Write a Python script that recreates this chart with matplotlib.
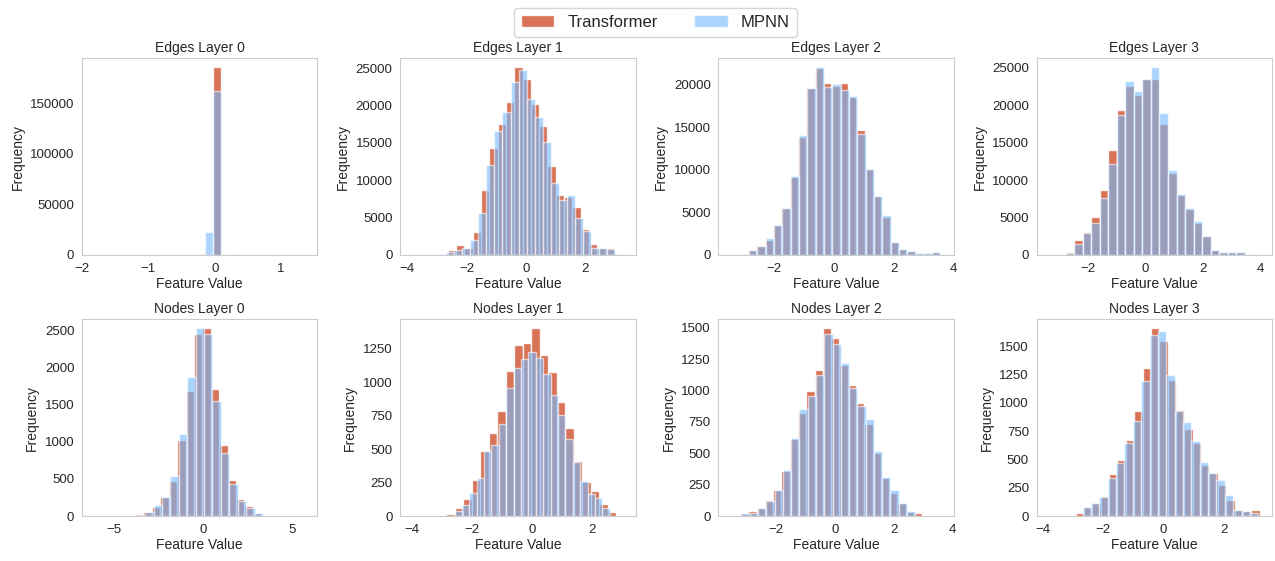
import numpy as np
import matplotlib
matplotlib.use('Agg')
import matplotlib.pyplot as plt
import seaborn as sns

sns.set_style('whitegrid')
plt.rcParams['font.family'] = ['Liberation Sans', 'DejaVu Sans']

# each series: first bin edge, bin width, counts per bin
# Edges Layer 0
e0_tf_start, e0_tf_width = -0.27, 0.12
e0_tf = [600, 100, 185300, 100, 300]
e0_mp_start, e0_mp_width = -0.27, 0.12
e0_mp = [400, 23000, 162300, 100, 900]

# Edges Layer 1
e1_tf_start, e1_tf_width = -2.629, 0.2796
e1_tf = [630, 1350, 1000, 3020, 8740, 14370, 17570, 20500, 25090, 23520, 20140,
         17300, 11890, 7970, 7700, 6400, 3470, 1530, 900, 990, 100]
e1_mp_start, e1_mp_width = -2.953, 0.2707
e1_mp = [100, 450, 630, 990, 2070, 5630, 12070, 16530, 19100, 23070, 24780,
         20900, 18420, 15050, 9640, 7300, 7970, 4900, 3150, 990, 900, 765]

# Edges Layer 2
e2_tf_start, e2_tf_width = -3.162, 0.2793
e2_tf = [150, 554, 1000, 1800, 3560, 5540, 9200, 13800, 19560, 21900, 20200, 19800,
         20200, 18500, 14650, 10100, 6930, 4500, 1470, 670, 475, 200, 240, 320]
e2_mp_start, e2_mp_width = -3.128, 0.2793
e2_mp = [60, 554, 1110, 1940, 3560, 5540, 9300, 14060, 19560, 22020, 19680, 20080,
         19400, 18690, 14260, 10100, 6930, 4750, 1470, 670, 475, 200, 240, 320]

# Edges Layer 3
e3_tf_start, e3_tf_width = -2.773, 0.2965
e3_tf = [450, 2030, 3110, 5045, 8740, 14050, 19370, 22610, 21400, 23520, 23520,
         17430, 10900, 8060, 6170, 4280, 2500, 650, 400, 400, 350, 80]
e3_mp_start, e3_mp_width = -2.773, 0.2965
e3_mp = [225, 1530, 2880, 4230, 7660, 12120, 18650, 23290, 21940, 23520, 25050,
         18920, 11350, 8200, 6260, 4500, 2570, 675, 405, 405, 360, 90]

# Nodes Layer 0
n0_tf_start, n0_tf_width = -3.796, 0.4704
n0_tf = [25, 50, 127, 263, 476, 1025, 1692, 2450, 2532, 1715, 953, 485, 236, 136, 40]
n0_mp_start, n0_mp_width = -3.704, 0.4704
n0_mp = [18, 54, 154, 263, 535, 1102, 1878, 2532, 2450, 1547, 844, 436, 209, 104, 45]

# Nodes Layer 1
n1_tf_start, n1_tf_width = -2.867, 0.2833
n1_tf = [13, 63, 126, 270, 489, 620, 786, 1086, 1278, 1298, 1404, 1207, 1081, 854,
         660, 408, 257, 186, 93, 30]
n1_mp_start, n1_mp_width = -2.59, 0.2461
n1_mp = [35, 81, 169, 287, 489, 529, 686, 955, 1107, 1177, 1228, 1182, 1059, 905,
         756, 577, 403, 260, 164, 136, 60]

# Nodes Layer 2
n2_tf_start, n2_tf_width = -3.232, 0.2814
n2_tf = [15, 43, 62, 129, 209, 356, 611, 820, 1000, 1160, 1495, 1420, 1200, 1040,
         900, 731, 504, 303, 182, 107, 32, 21]
n2_mp_start, n2_mp_width = -3.186, 0.2814
n2_mp = [21, 21, 62, 123, 209, 370, 619, 852, 959, 1125, 1447, 1369, 1222, 1021,
         879, 777, 522, 311, 209, 107, 43]

# Nodes Layer 3
n3_tf_start, n3_tf_width = -2.922, 0.2778
n3_tf = [24, 77, 113, 178, 374, 499, 668, 930, 1310, 1657, 1547, 1197, 935, 766,
         641, 448, 380, 276, 143, 53, 48, 53]
n3_mp_start, n3_mp_width = -2.689, 0.2778
n3_mp = [77, 113, 166, 336, 469, 647, 840, 1188, 1598, 1636, 1247, 930, 832, 662,
         478, 380, 321, 187, 53, 48, 30]

titles = ['Edges Layer 0', 'Edges Layer 1', 'Edges Layer 2', 'Edges Layer 3',
          'Nodes Layer 0', 'Nodes Layer 1', 'Nodes Layer 2', 'Nodes Layer 3']

panels = [
    ((e0_tf_start, e0_tf_width, e0_tf), (e0_mp_start, e0_mp_width, e0_mp)),
    ((e1_tf_start, e1_tf_width, e1_tf), (e1_mp_start, e1_mp_width, e1_mp)),
    ((e2_tf_start, e2_tf_width, e2_tf), (e2_mp_start, e2_mp_width, e2_mp)),
    ((e3_tf_start, e3_tf_width, e3_tf), (e3_mp_start, e3_mp_width, e3_mp)),
    ((n0_tf_start, n0_tf_width, n0_tf), (n0_mp_start, n0_mp_width, n0_mp)),
    ((n1_tf_start, n1_tf_width, n1_tf), (n1_mp_start, n1_mp_width, n1_mp)),
    ((n2_tf_start, n2_tf_width, n2_tf), (n2_mp_start, n2_mp_width, n2_mp)),
    ((n3_tf_start, n3_tf_width, n3_tf), (n3_mp_start, n3_mp_width, n3_mp)),
]

xlims = [(-2.0, 1.545), (-4.23, 3.69), (-3.88, 4.02), (-3.78, 4.395),
         (-6.76, 6.39), (-4.4, 3.44), (-3.97, 4.03), (-4.22, 3.6)]
xticks = [[-2, -1, 0, 1], [-4, -2, 0, 2], [-2, 0, 2, 4], [-2, 0, 2, 4],
          [-5, 0, 5], [-4, -2, 0, 2], [-2, 0, 2, 4], [-4, -2, 0, 2]]

tf_color = '#D25A3A'
mp_color = '#74B9FF'


def draw_hist(ax, start, width, counts, color, alpha, label):
    counts = np.asarray(counts, dtype=float)
    edges = start + width * np.arange(len(counts) + 1)
    centers = (edges[:-1] + edges[1:]) / 2
    ax.hist(centers, bins=edges, weights=counts, color=color, alpha=alpha,
            edgecolor='white', linewidth=1.0, label=label)


fig, axes = plt.subplots(2, 4, figsize=(12.75, 5.61), dpi=100)
fig.subplots_adjust(left=0.0643, right=0.9976, bottom=0.0802, top=0.8966,
                    wspace=0.352, hspace=0.325)

for i, ax in enumerate(axes.flat):
    tf, mp = panels[i]
    draw_hist(ax, tf[0], tf[1], tf[2], tf_color, 0.85, 'Transformer')
    draw_hist(ax, mp[0], mp[1], mp[2], mp_color, 0.6, 'MPNN')
    ax.set_xlim(*xlims[i])
    ax.set_xticks(xticks[i])
    ax.grid(False)
    ax.set_title(titles[i], fontsize=10, pad=4)
    ax.set_xlabel('Feature Value', fontsize=10, labelpad=2)
    ax.set_ylabel('Frequency', fontsize=10)
    ax.tick_params(labelsize=9.5, pad=2)

handles, labels = axes[0, 0].get_legend_handles_labels()
fig.legend(handles, labels, loc='upper center', bbox_to_anchor=(0.514, 1.0),
           ncol=2, fontsize=12, columnspacing=2.2, frameon=True)

fig.savefig('out.png', dpi=100)
